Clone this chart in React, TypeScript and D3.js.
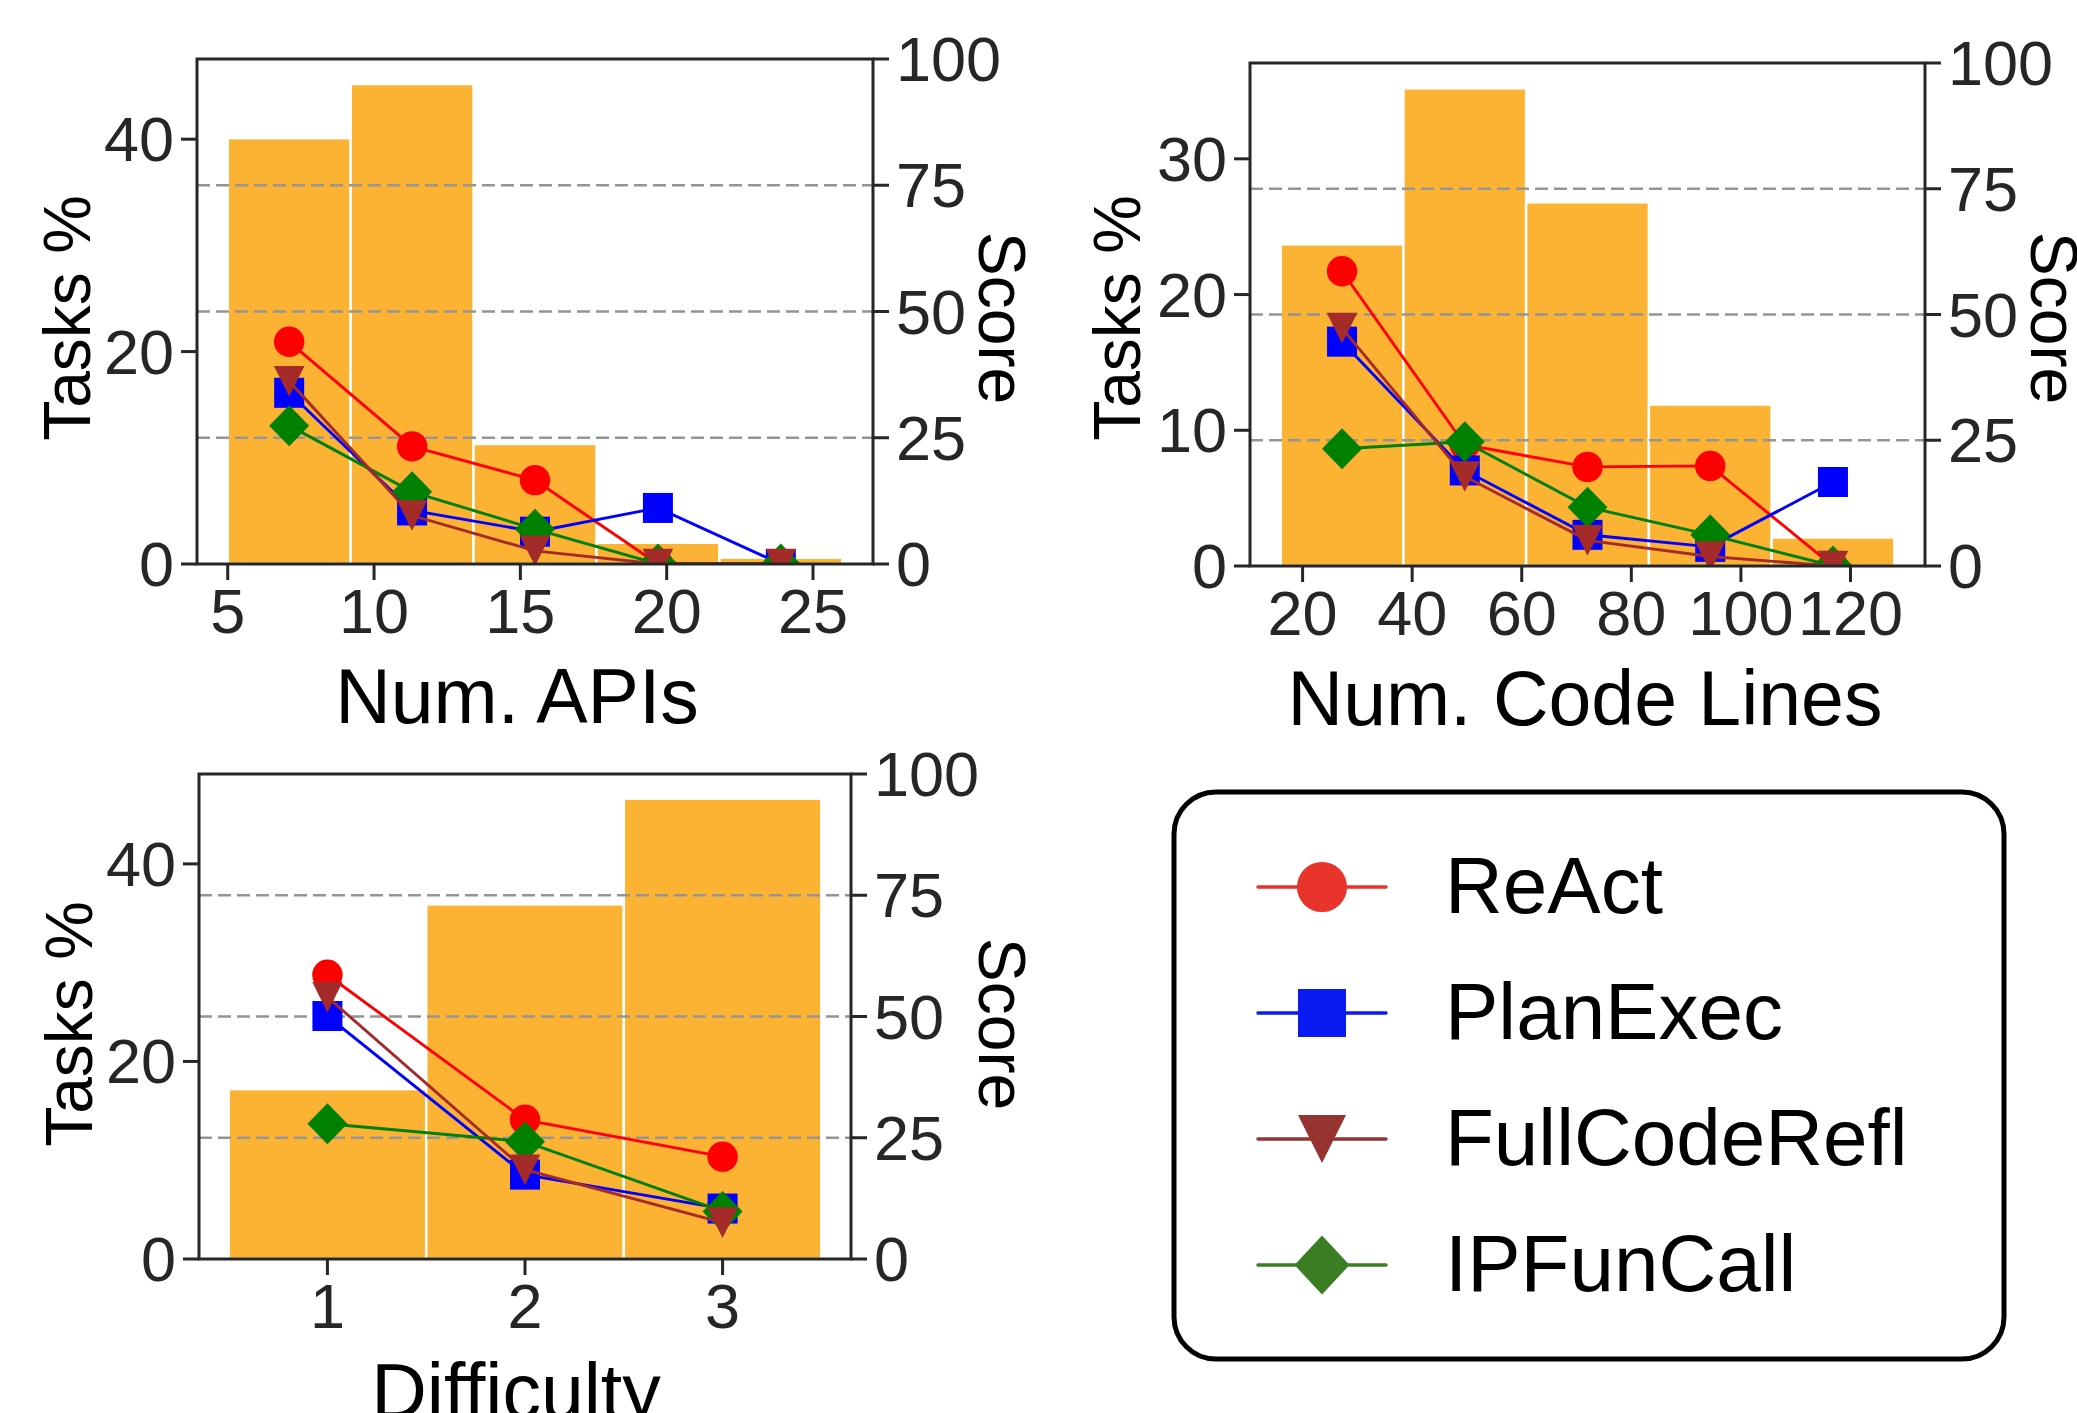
import * as d3 from 'd3';

const FONT = '"Liberation Sans", Arial, Helvetica, sans-serif';
const INK = '#262626';

// ---- Num. APIs ----
const apiBinEdges = [5, 9.2, 13.4, 17.6, 21.8, 26];
const apiTasksPct = [40.1, 45.2, 11.3, 2.0, 0.6];
const apiReAct = [44.0, 23.3, 16.6, 0, 0];
const apiPlanExec = [33.9, 10.6, 6.4, 11.1, 0];
const apiFullCodeRefl = [36.2, 9.6, 2.6, 0, 0];
const apiIPFunCall = [27.4, 14.3, 6.9, 0, 0];
const apiXTicks = [5, 10, 15, 20, 25];
const apiYTicks = [0, 20, 40];

// ---- Num. Code Lines ----
const codeBinEdges = [16, 38.4, 60.8, 83.2, 105.6, 128];
const codeTasksPct = [23.7, 35.2, 26.8, 11.9, 2.1];
const codeReAct = [58.6, 24.1, 19.7, 19.9, 0];
const codePlanExec = [44.6, 19.0, 6.2, 3.8, 16.7];
const codeFullCodeRefl = [47.3, 17.8, 5.1, 1.9, 0];
const codeIPFunCall = [23.3, 24.7, 11.7, 6.2, 0];
const codeXTicks = [20, 40, 60, 80, 100, 120];
const codeYTicks = [0, 10, 20, 30];

// ---- Difficulty ----
const diffBinEdges = [0.5, 1.5, 2.5, 3.5];
const diffTasksPct = [17.2, 35.9, 46.6];
const diffReAct = [58.6, 28.7, 21.1];
const diffPlanExec = [50.1, 17.4, 10.4];
const diffFullCodeRefl = [54.0, 18.4, 7.5];
const diffIPFunCall = [27.9, 24.2, 9.8];
const diffXTicks = [1, 2, 3];
const diffYTicks = [0, 20, 40];

const scoreTicks = [0, 25, 50, 75, 100];
const scoreGrid = [25, 50, 75];

const legendNames = ['ReAct', 'PlanExec', 'FullCodeRefl', 'IPFunCall'];
const drawOrder = ['ReAct', 'PlanExec', 'IPFunCall', 'FullCodeRefl'];
const lineColor: Record<string, string> = {
  ReAct: '#ff0000', PlanExec: '#0000ff', FullCodeRefl: '#a52a2a', IPFunCall: '#008000',
};
const legendColor: Record<string, string> = {
  ReAct: '#e8342a', PlanExec: '#0a1af2', FullCodeRefl: '#953331', IPFunCall: '#3a7d22',
};
const shapeOf: Record<string, string> = {
  ReAct: 'circle', PlanExec: 'square', FullCodeRefl: 'tri', IPFunCall: 'diamond',
};

function Marker({ shape, x, y, color, big }: any) {
  const k = big ? 1.65 : 1;
  if (shape === 'circle') return <circle cx={x} cy={y} r={15.2 * k} fill={color} />;
  if (shape === 'square') {
    const s = 15 * (big ? 1.6 : 1);
    return <rect x={x - s} y={y - s} width={2 * s} height={2 * s} fill={color} />;
  }
  if (shape === 'tri') {
    const s = 15.3 * (big ? 1.57 : 1);
    return <path d={`M${x},${y + s}L${x - s},${y - s}L${x + s},${y - s}Z`} fill={color} />;
  }
  const w = big ? 27.5 : 20, h = big ? 29.5 : 20.5;
  return <path d={`M${x},${y - h}L${x + w},${y}L${x},${y + h}L${x - w},${y}Z`} fill={color} />;
}

function Panel({ id, box, xDomain, xTicks, yMax, yTicks, edges, tasks, scores, xLabel, xLabelX, tasksX, scoreX, labelCy }: any) {
  const { left, right, top, bottom } = box;
  const x = d3.scaleLinear().domain(xDomain).range([left, right]);
  const yL = d3.scaleLinear().domain([0, yMax]).range([bottom, top]);
  const yR = d3.scaleLinear().domain([0, 100]).range([bottom, top]);
  const centers = edges.slice(0, -1).map((e: number, i: number) => (e + edges[i + 1]) / 2);
  const line = d3.line<number>().x((_, i) => x(centers[i])).y((d) => yR(d));

  return (
    <g>
      <defs>
        <clipPath id={id}>
          <rect x={left} y={top} width={right - left} height={bottom - top} />
        </clipPath>
      </defs>
      {tasks.map((v: number, i: number) => (
        <rect key={i} x={x(edges[i])} y={yL(v)} width={x(edges[i + 1]) - x(edges[i])}
          height={yL(0) - yL(v)} fill="#fcb232" stroke="#ffffff" strokeWidth={2.5} />
      ))}
      {scoreGrid.map((t) => (
        <line key={t} x1={left} x2={right} y1={yR(t)} y2={yR(t)} stroke="#959595"
          strokeWidth={2.6} strokeDasharray="13,6" />
      ))}
      <g clipPath={`url(#${id})`}>
        {drawOrder.map((name) => (
          <g key={name}>
            <path d={line(scores[name]) || ''} fill="none" stroke={lineColor[name]} strokeWidth={2.9} />
            {scores[name].map((v: number, i: number) => (
              <Marker key={i} shape={shapeOf[name]} x={x(centers[i])} y={yR(v)} color={lineColor[name]} />
            ))}
          </g>
        ))}
      </g>
      <rect x={left} y={top} width={right - left} height={bottom - top} fill="none" stroke={INK} strokeWidth={3} />
      {yTicks.map((t: number) => (
        <g key={t}>
          <line x1={left - 16} x2={left} y1={yL(t)} y2={yL(t)} stroke={INK} strokeWidth={3} />
          <text x={left - 23} y={yL(t) + 22} textAnchor="end" fontSize={63} fill={INK} fontFamily={FONT}>{t}</text>
        </g>
      ))}
      {scoreTicks.map((t) => (
        <g key={t}>
          <line x1={right} x2={right + 16} y1={yR(t)} y2={yR(t)} stroke={INK} strokeWidth={3} />
          <text x={right + 23} y={yR(t) + 22} fontSize={63} fill={INK} fontFamily={FONT}>{t}</text>
        </g>
      ))}
      {xTicks.map((t: number) => (
        <g key={t}>
          <line x1={x(t)} x2={x(t)} y1={bottom} y2={bottom + 16} stroke={INK} strokeWidth={3} />
          <text x={x(t)} y={bottom + 69} textAnchor="middle" fontSize={63} fill={INK} fontFamily={FONT}>{t}</text>
        </g>
      ))}
      <text x={xLabelX} y={bottom + 159} textAnchor="middle" fontSize={77} fill="#000" fontFamily={FONT}>{xLabel}</text>
      <text transform={`translate(${tasksX},${labelCy}) rotate(-90)`} textAnchor="middle" fontSize={66}
        fill="#000" fontFamily={FONT}>Tasks %</text>
      <text transform={`translate(${scoreX},${labelCy}) rotate(90)`} textAnchor="middle" fontSize={66}
        fill="#000" fontFamily={FONT}>Score</text>
    </g>
  );
}

function Legend() {
  const rowY = d3.scaleLinear().domain([0, 3]).range([887, 1265]);
  return (
    <g>
      <rect x={1174} y={792} width={830} height={567} rx={42} fill="#fff" stroke="#000" strokeWidth={5} />
      {legendNames.map((name, i) => (
        <g key={name}>
          <line x1={1258} x2={1386} y1={rowY(i)} y2={rowY(i)} stroke={legendColor[name]} strokeWidth={3.5} strokeLinecap="round" />
          <Marker shape={shapeOf[name]} x={1322} y={rowY(i)} color={legendColor[name]} big />
          <text x={1445} y={rowY(i) + 26} fontSize={80} fill="#000" fontFamily={FONT}>{name}</text>
        </g>
      ))}
    </g>
  );
}

export default function App() {
  return (
    <svg width={2077} height={1413} style={{ position: 'absolute', left: 0, top: 0, background: '#fff' }}>
      <rect width={2077} height={1413} fill="#fff" />
      <Panel id="c1" box={{ left: 197, right: 873, top: 59, bottom: 564 }} xDomain={[3.95, 27.05]}
        xTicks={apiXTicks} yMax={47.55} yTicks={apiYTicks} edges={apiBinEdges} tasks={apiTasksPct}
        scores={{ ReAct: apiReAct, PlanExec: apiPlanExec, FullCodeRefl: apiFullCodeRefl, IPFunCall: apiIPFunCall }}
        xLabel="Num. APIs" xLabelX={517} tasksX={90} scoreX={979} labelCy={318} />
      <Panel id="c2" box={{ left: 1250, right: 1925, top: 63, bottom: 566 }} xDomain={[10.4, 133.6]}
        xTicks={codeXTicks} yMax={37.06} yTicks={codeYTicks} edges={codeBinEdges} tasks={codeTasksPct}
        scores={{ ReAct: codeReAct, PlanExec: codePlanExec, FullCodeRefl: codeFullCodeRefl, IPFunCall: codeIPFunCall }}
        xLabel="Num. Code Lines" xLabelX={1585} tasksX={1140} scoreX={2031} labelCy={318} />
      <Panel id="c3" box={{ left: 199, right: 851, top: 774, bottom: 1259 }} xDomain={[0.35, 3.65]}
        xTicks={diffXTicks} yMax={49.1} yTicks={diffYTicks} edges={diffBinEdges} tasks={diffTasksPct}
        scores={{ ReAct: diffReAct, PlanExec: diffPlanExec, FullCodeRefl: diffFullCodeRefl, IPFunCall: diffIPFunCall }}
        xLabel="Difficulty" xLabelX={516} tasksX={92} scoreX={979} labelCy={1024} />
      <Legend />
    </svg>
  );
}
